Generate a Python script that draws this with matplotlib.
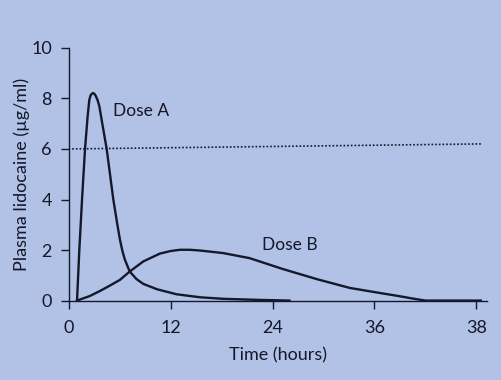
import matplotlib
matplotlib.use('Agg')
import matplotlib.pyplot as plt

# Dados (horas, µg/ml)
horas_a = [1.0, 1.27, 1.59, 1.94, 2.25, 2.45, 2.6, 2.75, 2.9, 3.05, 3.2, 3.4, 3.62, 4.0, 4.49,
           5.27, 5.7, 6.05, 6.35, 6.64, 7.2, 8.0, 8.8, 10.4, 12.7, 15.5, 18.2, 22.1, 26.0]
dose_a = [0.0, 2.0, 4.0, 6.0, 7.3, 7.95, 8.12, 8.19, 8.21, 8.18, 8.1, 7.95, 7.7, 6.95, 6.0,
          4.0, 3.1, 2.41, 1.95, 1.61, 1.15, 0.85, 0.66, 0.45, 0.25, 0.13, 0.07, 0.03, 0.0]

horas_b = [1.0, 2.5, 3.7, 4.9, 6.05, 7.2, 8.8, 10.75, 12.0, 13.1, 14.3, 15.5, 18.2, 21.3,
           25.2, 29.2, 33.1, 37.0, 39.0, 40.5, 42.0, 48.5]
dose_b = [0.0, 0.18, 0.38, 0.6, 0.82, 1.15, 1.55, 1.86, 1.96, 2.01, 2.01, 1.98, 1.88, 1.68,
          1.25, 0.85, 0.5, 0.28, 0.17, 0.08, 0.0, 0.0]

limiar_x = [0.0, 48.6]
limiar_y = [6.0, 6.2]

ticks_x = [0, 12, 24, 36, 48]
rotulos_x = ['0', '12', '24', '36', '38']
ticks_y = [0, 2, 4, 6, 8, 10]

# Cores
cor_fundo = '#b1c2e6'
cor_linha = '#15172a'

plt.rcParams['font.family'] = ['Lato', 'DejaVu Sans']

fig = plt.figure(figsize=(5.02, 3.8), dpi=100, facecolor=cor_fundo)
ax = fig.add_axes([0.1365, 0.209, 0.833, 0.665])
ax.set_facecolor(cor_fundo)

ax.plot(horas_a, dose_a, color=cor_linha, lw=1.7, solid_joinstyle='round')
ax.plot(horas_b, dose_b, color=cor_linha, lw=1.7, solid_joinstyle='round')
ax.plot(limiar_x, limiar_y, color=cor_linha, lw=1.2, linestyle=(0, (1, 1.2)))

ax.text(5.2, 7.5, 'Dose A', fontsize=12.5, color=cor_linha, va='center', ha='left')
ax.text(22.8, 2.2, 'Dose B', fontsize=12.5, color=cor_linha, va='center', ha='left')

ax.set_xlim(0, 49.2)
ax.set_ylim(0, 10)
ax.set_xticks(ticks_x)
ax.set_xticklabels(rotulos_x)
ax.set_yticks(ticks_y)

for lado in ['top', 'right']:
    ax.spines[lado].set_visible(False)
for lado in ['left', 'bottom']:
    ax.spines[lado].set_color(cor_linha)
    ax.spines[lado].set_linewidth(1.0)

ax.tick_params(axis='both', colors=cor_linha, labelsize=13, width=1.0, length=6, pad=6)
ax.tick_params(axis='x', pad=8)

ax.set_xlabel('Time (hours)', fontsize=13, color=cor_linha, labelpad=8)
ax.set_ylabel('Plasma lidocaine (µg/ml)', fontsize=13, color=cor_linha, labelpad=1)

fig.savefig('out.png', dpi=100, facecolor=cor_fundo)
